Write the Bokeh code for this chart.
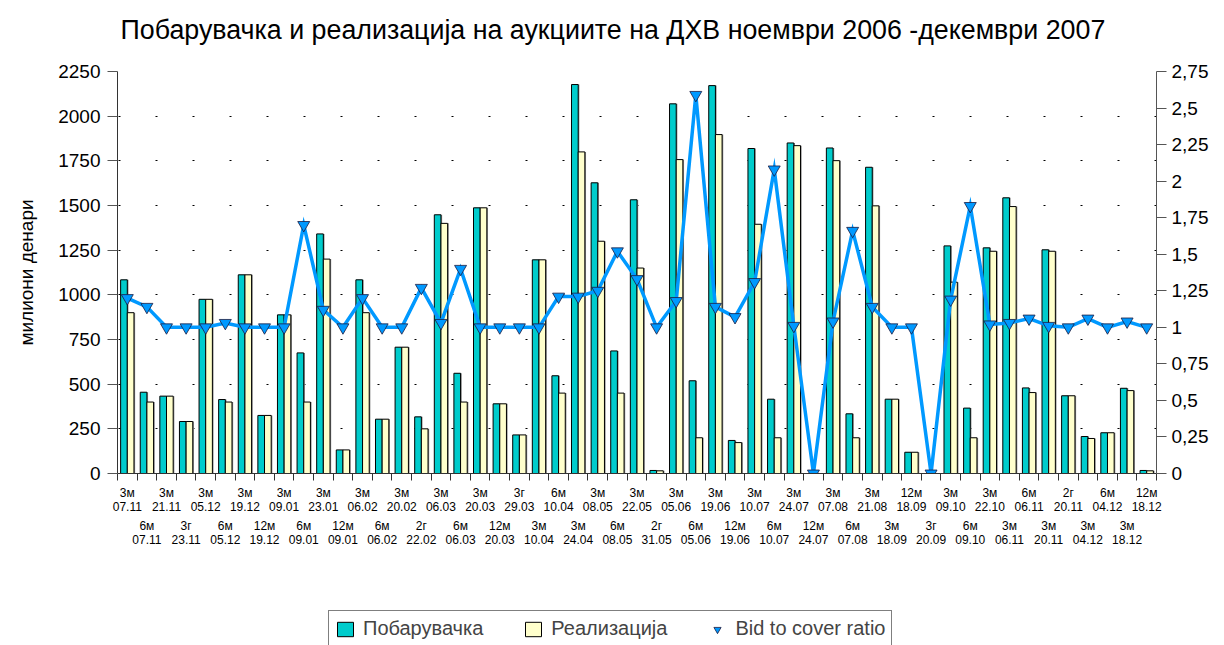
from bokeh.plotting import figure
from bokeh.layouts import column
from bokeh.models import (Range1d, LinearAxis, FixedTicker, CustomJSTickFormatter,
                          ColumnDataSource, Legend, LegendItem, Label, Grid)
from bokeh.transform import dodge
from bokeh.embed import file_html
from bokeh.resources import INLINE

terms = ["3м", "6м", "3м", "3г", "3м", "6м", "3м", "12м", "3м", "6м",
         "3м", "12м", "3м", "6м", "3м", "2г", "3м", "6м", "3м", "12м",
         "3г", "3м", "6м", "3м", "3м", "6м", "3м", "2г", "3м", "6м",
         "3м", "12м", "3м", "6м", "3м", "12м", "3м", "6м", "3м", "3м",
         "12м", "3г", "3м", "6м", "3м", "3м", "6м", "3м", "2г", "3м",
         "6м", "3м", "12м"]
dates = ["07.11", "07.11", "21.11", "23.11", "05.12", "05.12", "19.12", "19.12", "09.01", "09.01",
         "23.01", "09.01", "06.02", "06.02", "20.02", "22.02", "06.03", "06.03", "20.03", "20.03",
         "29.03", "10.04", "10.04", "24.04", "08.05", "08.05", "22.05", "31.05", "05.06", "05.06",
         "19.06", "19.06", "10.07", "10.07", "24.07", "24.07", "07.08", "07.08", "21.08", "18.09",
         "18.09", "20.09", "09.10", "09.10", "22.10", "06.11", "06.11", "20.11", "20.11", "04.12",
         "04.12", "18.12", "18.12"]
demand = [1084, 455, 433, 291, 975, 414, 1112, 325, 888, 675,
          1341, 132, 1084, 304, 707, 317, 1448, 561, 1487, 390,
          216, 1196, 547, 2177, 1627, 686, 1532, 17, 2069, 519,
          2171, 185, 1819, 416, 1850, 0, 1822, 334, 1714, 416,
          119, 0, 1274, 366, 1263, 1543, 479, 1252, 435, 207,
          228, 477, 17]
realized = [900, 400, 433, 291, 975, 400, 1112, 325, 888, 400,
            1200, 132, 900, 304, 707, 250, 1400, 400, 1487, 390,
            216, 1196, 450, 1800, 1300, 450, 1150, 15, 1757, 200,
            1897, 173, 1395, 200, 1835, 0, 1751, 200, 1498, 416,
            119, 0, 1071, 200, 1244, 1494, 453, 1244, 435, 196,
            228, 464, 15]
ratio = [1.2, 1.14, 1.0, 1.0, 1.0, 1.03, 1.0, 1.0, 1.0, 1.7,
         1.12, 1.0, 1.2, 1.0, 1.0, 1.27, 1.03, 1.4, 1.0, 1.0,
         1.0, 1.0, 1.21, 1.21, 1.25, 1.52, 1.33, 1.0, 1.18, 2.59,
         1.14, 1.07, 1.31, 2.08, 1.01, 0.0, 1.04, 1.66, 1.14, 1.0,
         1.0, 0.0, 1.19, 1.83, 1.02, 1.03, 1.06, 1.01, 1.0, 1.06,
         1.0, 1.04, 1.0]
left_ticks = [0, 250, 500, 750, 1000, 1250, 1500, 1750, 2000, 2250]
right_ticks = [0, 0.25, 0.5, 0.75, 1, 1.25, 1.5, 1.75, 2, 2.25, 2.5, 2.75]
series_names = ["Побарувачка", "Реализација", "Bid to cover ratio"]
title_text = "Побарувачка и реализација на аукциите на ДХВ ноември 2006 -декември 2007"

TEAL, CREAM, BLUE = "#00CCCC", "#FFFFCC", "#0099FF"
FONT = "Liberation Sans"

n = len(terms)
xs = [i + 0.5 for i in range(n)]
labels = [t + "\n" + d for t, d in zip(terms, dates)]
src = ColumnDataSource(dict(x=xs, demand=demand, realized=realized, ratio=ratio))

W = 1216


def strip(height):
    f = figure(width=W, height=height, x_range=Range1d(0, 1), y_range=Range1d(0, 1),
               output_backend="svg", toolbar_location=None, min_border=0,
               x_axis_location=None, y_axis_location=None, title=None)
    f.outline_line_color = None
    f.center = [r for r in f.center if not isinstance(r, Grid)]
    return f


# title strip
TH = 56
t = strip(TH)
t.add_layout(Label(x=3, y=TH - 29, x_units="screen", y_units="screen", text=title_text,
                   text_align="left", text_baseline="middle", text_font=FONT,
                   text_font_size="26.8px", text_color="black"))

# main chart
p = figure(width=W, height=550, x_range=Range1d(0, n), y_range=Range1d(0, 2250),
           output_backend="svg", toolbar_location=None,
           min_border_left=117, min_border_right=60, min_border_top=15, min_border_bottom=133,
           x_axis_location=None, y_axis_location=None, title=None)
p.extra_y_ranges = {"ratio": Range1d(0, 2.75)}
p.outline_line_color = None
p.background_fill_color = "white"
p.center = [r for r in p.center if not isinstance(r, Grid)]

yl = LinearAxis(ticker=FixedTicker(ticks=left_ticks), axis_label="милиони денари",
                major_tick_out=10, major_tick_in=0, minor_tick_out=0, minor_tick_in=0,
                major_label_text_font=FONT, major_label_text_font_size="19px",
                major_label_text_color="black",
                major_label_standoff=7, axis_label_text_font=FONT,
                axis_label_text_font_size="19px", axis_label_text_font_style="normal",
                axis_label_text_color="black",
                axis_label_standoff=18, axis_line_color="#333333",
                major_tick_line_color="#555555")
p.add_layout(yl, "left")

fmt = CustomJSTickFormatter(code="return tick.toString().replace('.', ',');")
yr = LinearAxis(y_range_name="ratio", ticker=FixedTicker(ticks=right_ticks), formatter=fmt,
                major_tick_out=10, major_tick_in=0, minor_tick_out=0, minor_tick_in=0,
                major_label_text_font=FONT, major_label_text_font_size="19px",
                major_label_text_color="black",
                major_label_standoff=5, axis_line_color="#555555",
                major_tick_line_color="#555555")
p.add_layout(yr, "right")

g = Grid(dimension=1, ticker=FixedTicker(ticks=left_ticks), grid_line_color="#000000",
         grid_line_width=1, grid_line_dash="2 35", grid_line_dash_offset=36)
p.add_layout(g)

xa = LinearAxis(ticker=FixedTicker(ticks=list(range(0, n + 1))),
                formatter=CustomJSTickFormatter(code="return '';"),
                major_tick_out=7, major_tick_in=0, minor_tick_out=0, minor_tick_in=0,
                major_label_text_font_size="1px", major_label_standoff=0,
                axis_line_color="#333333", major_tick_line_color="#333333")
p.add_layout(xa, "below")

lab_fmt = CustomJSTickFormatter(args=dict(labels=labels), code="return labels[Math.floor(tick)];")
for ticks, standoff in ((xs[0::2], 5), (xs[1::2], 2)):
    ax = LinearAxis(ticker=FixedTicker(ticks=ticks), formatter=lab_fmt,
                    major_tick_out=0, major_tick_in=0, minor_tick_out=0, minor_tick_in=0,
                    axis_line_color=None, major_tick_line_color=None,
                    major_label_text_font=FONT, major_label_text_font_size="12px",
                    major_label_text_color="black", major_label_text_line_height=1.0,
                    major_label_standoff=standoff)
    p.add_layout(ax, "below")

# bar shadows
p.vbar(x=dodge("x", -0.11), top="demand", width=0.34, source=src,
       fill_color="#8c8c8c", line_color=None)
p.vbar(x=dodge("x", 0.23), top="realized", width=0.34, source=src,
       fill_color="#8c8c8c", line_color=None)
# bars
p.vbar(x=dodge("x", -0.17), top="demand", width=0.34, source=src,
       fill_color=TEAL, line_color="black", line_width=1)
p.vbar(x=dodge("x", 0.17), top="realized", width=0.34, source=src,
       fill_color=CREAM, line_color="black", line_width=1)

# ratio line
p.line(x="x", y="ratio", source=src, y_range_name="ratio", line_color=BLUE,
       line_width=3.5, line_join="miter")
p.scatter(x="x", y="ratio", source=src, y_range_name="ratio", marker="inverted_triangle",
          size=12, fill_color=BLUE, line_color="#1a1a40", line_width=0.8)

# legend strip (legend-only renderers, hidden from the canvas)
LH = 39
q = strip(LH)
r1 = q.vbar(x=[0.5], top=[1], width=0.1, fill_color=TEAL, line_color="black", line_width=1,
            visible=False)
r2 = q.vbar(x=[0.5], top=[1], width=0.1, fill_color=CREAM, line_color="black", line_width=1,
            visible=False)
r3 = q.scatter(x=[0.5], y=[0.5], marker="inverted_triangle", size=12, fill_color=BLUE,
               line_color="#1a1a40", line_width=0.8, visible=False)
legend = Legend(items=[LegendItem(label=series_names[0], renderers=[r1]),
                       LegendItem(label=series_names[1], renderers=[r2]),
                       LegendItem(label=series_names[2], renderers=[r3])],
                location=(211, -2), orientation="horizontal",
                border_line_color="black", border_line_width=1,
                label_text_font=FONT, label_text_font_size="20px",
                glyph_width=20, glyph_height=18, label_standoff=8, spacing=40,
                padding=6, margin=0, background_fill_color="white", background_fill_alpha=1,
                inactive_fill_alpha=0)
q.add_layout(legend)

layout = column(t, p, q, spacing=0)
open("out.html", "w").write(file_html(layout, INLINE))
